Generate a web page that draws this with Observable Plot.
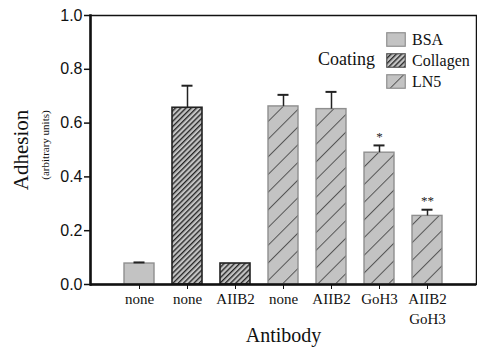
<!DOCTYPE html>
<html>
<head>
<meta charset="utf-8">
<script src="https://cdn.jsdelivr.net/npm/d3@7"></script>
<script src="https://cdn.jsdelivr.net/npm/@observablehq/plot@0.6"></script>
<style>
  html, body { margin: 0; padding: 0; background: #fff; }
  #wrap { position: relative; width: 477px; height: 347px; }
  #legend { position: absolute; left: 318px; top: 29px; font-family: "Liberation Serif", "Times New Roman", serif; color: #111; }
  #legend .row { display: flex; align-items: center; height: 21px; margin-left: 68px; }
  #legend .row span { font-size: 16px; margin-left: 6px; }
  #legend .title { position: absolute; left: 0; top: 20px; font-size: 18px; line-height: 21px; }
</style>
</head>
<body>
<div id="wrap"></div>
<script>
// ---- data ----
const antibodies = ["none", "none", "AIIB2", "none", "AIIB2", "GoH3", "AIIB2\nGoH3"];
const coatings   = ["BSA", "Collagen", "Collagen", "LN5", "LN5", "LN5", "LN5"];
const adhesion   = [0.078, 0.657, 0.078, 0.662, 0.652, 0.490, 0.255];
const errors     = [0.004, 0.082, 0.000, 0.043, 0.064, 0.027, 0.023];
const stars      = ["", "", "", "", "", "*", "**"];
const coatingNames = ["BSA", "Collagen", "LN5"];
const yTicks = [0, 0.2, 0.4, 0.6, 0.8, 1.0];

const data = antibodies.map((a, i) => ({
  id: String(i), antibody: a, coating: coatings[i],
  value: adhesion[i], err: errors[i], top: adhesion[i] + errors[i], star: stars[i]
}));

const fills = {BSA: "#c3c3c3", Collagen: "url(#hatchDense)", LN5: "url(#hatchSparse)"};
const strokes = {BSA: "#8f8f8f", Collagen: "#222", LN5: "#8f8f8f"};

const serif = "Liberation Serif, Times New Roman, serif";
const sans = "Liberation Sans, Arial, sans-serif";

const barMarks = coatingNames.map(c => Plot.barY(data.filter(d => d.coating === c), {
  x: "id", y: "value", fill: fills[c], stroke: strokes[c], strokeWidth: c === "Collagen" ? 1.6 : 1.4
}));

const eb = data.filter(d => d.err > 0);

const chart = Plot.plot({
  width: 477,
  height: 347,
  marginLeft: 90,
  marginRight: 1,
  marginTop: 15,
  marginBottom: 63,
  style: {background: "#fff", color: "#111", overflow: "visible", fontFamily: serif, fontSize: "15px"},
  x: {type: "band", domain: data.map(d => d.id), paddingInner: 0.378, paddingOuter: 0.689, label: null},
  y: {domain: [0, 1], label: null},
  marks: [
    Plot.frame({stroke: "#111", strokeWidth: 1.5}),
    ...barMarks,
    Plot.ruleX(eb, {x: "id", y1: "value", y2: "top", stroke: "#222", strokeWidth: 1.5}),
    Plot.tickY(eb, {x: "id", y: "top", stroke: "#222", strokeWidth: 2, insetLeft: 9.5, insetRight: 9.5}),
    Plot.text(data.filter(d => d.star), {x: "id", y: "top", text: "star", dy: -9, fontSize: 13, fontFamily: serif, fill: "#222"}),
    Plot.axisY({ticks: yTicks, tickFormat: d3.format(".1f"), tickSize: 6, tickPadding: 2, fontSize: 16, fontFamily: sans, stroke: "#111", strokeWidth: 1.5, label: null}),
    Plot.axisX({tickFormat: id => antibodies[+id], tickSize: 5, tickPadding: 1, fontSize: 15, fontFamily: serif, lineHeight: 1.3, stroke: "#111", label: null}),
    Plot.ruleY([0], {stroke: "#111", strokeWidth: 2.5}),
    Plot.frame({anchor: "left", stroke: "#111", strokeWidth: 2.5}),
    Plot.text(["Adhesion"], {frameAnchor: "left", textAnchor: "middle", lineAnchor: "middle", rotate: -90, dx: -69, fontSize: 21, fontFamily: serif, fill: "#111"}),
    Plot.text(["(arbitrary units)"], {frameAnchor: "left", textAnchor: "middle", lineAnchor: "middle", rotate: -90, dx: -45, dy: -5, fontSize: 11, fontFamily: serif, fill: "#111"}),
    Plot.text(["Antibody"], {frameAnchor: "bottom", textAnchor: "middle", lineAnchor: "middle", dy: 51, fontSize: 20, fontFamily: serif, fill: "#111"})
  ]
});

// hatch patterns
const defs = d3.select(chart).insert("defs", ":first-child");
const dense = defs.append("pattern").attr("id", "hatchDense").attr("patternUnits", "userSpaceOnUse")
  .attr("width", 10).attr("height", 3.7).attr("patternTransform", "rotate(-45)");
dense.append("rect").attr("width", 10).attr("height", 3.7).attr("fill", "#c3c3c3");
dense.append("line").attr("x1", 0).attr("x2", 10).attr("y1", 0.7).attr("y2", 0.7).attr("stroke", "#111").attr("stroke-width", 1.2);
const sparse = defs.append("pattern").attr("id", "hatchSparse").attr("patternUnits", "userSpaceOnUse")
  .attr("width", 10).attr("height", 12.5).attr("patternTransform", "rotate(-45)");
sparse.append("rect").attr("width", 10).attr("height", 12.5).attr("fill", "#c3c3c3");
sparse.append("line").attr("x1", 0).attr("x2", 10).attr("y1", 0.5).attr("y2", 0.5).attr("stroke", "#555").attr("stroke-width", 1);

const wrap = document.getElementById("wrap");
wrap.appendChild(chart);

// legend
const legend = document.createElement("div");
legend.id = "legend";
const title = document.createElement("div");
title.className = "title";
title.textContent = "Coating";
legend.appendChild(title);
coatingNames.forEach(c => {
  const row = document.createElement("div");
  row.className = "row";
  row.innerHTML = `<svg width="20" height="15"><rect x="0.75" y="0.75" width="18.5" height="13.5" fill="${fills[c]}" stroke="${c === "Collagen" ? "#555" : "#8f8f8f"}" stroke-width="1.2"/></svg><span>${c}</span>`;
  legend.appendChild(row);
});
wrap.appendChild(legend);
</script>
</body>
</html>
